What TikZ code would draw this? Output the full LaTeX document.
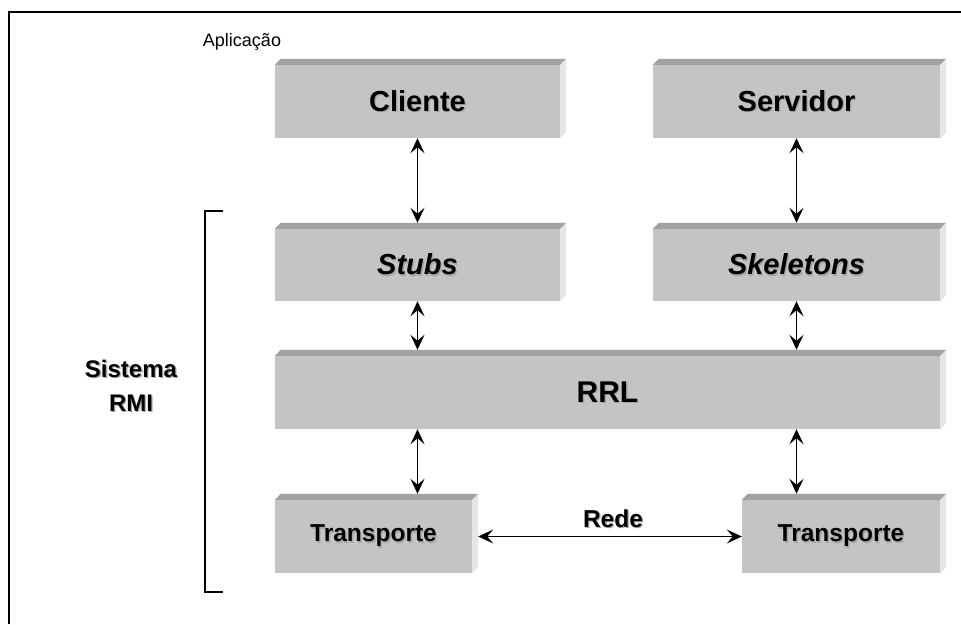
\documentclass[tikz,border=0pt]{standalone}
\usepackage{fontspec}
\setmainfont{Liberation Sans}
\usetikzlibrary{arrows.meta,calc}
\definecolor{faceC}{HTML}{C4C4C6}
\definecolor{topC}{HTML}{A2A2A4}
\definecolor{sideC}{HTML}{E6E6E8}
\newcommand{\shtxt}[1]{\rlap{\kern1.3pt\raisebox{-1.3pt}{\textcolor{black!35}{#1}}}#1}
\newcommand{\bevelbox}[1]{%
  \fill[topC] (#1.north west) -- ++(6,-6) -- ($(#1.north east)+(6,-6)$) -- (#1.north east) -- cycle;
  \fill[sideC] (#1.north east) -- ++(6,-6) -- ($(#1.south east)+(6,-6)$) -- (#1.south east) -- cycle;
}
\begin{document}
\begin{tikzpicture}[x=1pt,y=-1pt,
  boxnode/.style={rectangle, fill=faceC, inner sep=0pt, anchor=center},
  bigtxt/.style={font=\fontsize{29}{32}\selectfont\bfseries},
  midtxt/.style={font=\fontsize{24.5}{27}\selectfont\bfseries},
  arr/.style={line width=1.5pt, {Stealth[length=15pt,width=14pt,inset=6pt]}-{Stealth[length=15pt,width=14pt,inset=6pt]}}
]
\useasboundingbox (0,0) rectangle (961,624);
\fill[white] (0,0) rectangle (961,624);
% frame
\coordinate (fa) at (9,624);
\coordinate (fb) at (9,12);
\coordinate (fc) at (961,12);
\draw[line width=2.2pt] (fa) -- (fb) -- (fc);

% boxes
\node[boxnode, minimum width=285pt, minimum height=73pt, bigtxt] (cli) at (417.5,101.5) {\shtxt{Cliente}};
\node[boxnode, minimum width=287pt, minimum height=73pt, bigtxt] (srv) at (796.5,101.5) {\shtxt{Servidor}};
\node[boxnode, minimum width=285pt, minimum height=72pt, bigtxt] (stu) at (417.5,265) {\shtxt{\itshape Stubs}};
\node[boxnode, minimum width=287pt, minimum height=72pt, bigtxt] (ske) at (796.5,265) {\shtxt{\itshape Skeletons}};
\node[boxnode, minimum width=665pt, minimum height=73pt, font=\fontsize{30}{32}\selectfont\bfseries] (rrl) at (607.5,392.5) {\shtxt{RRL}};
\node[boxnode, minimum width=197pt, minimum height=73pt, midtxt] (trl) at (373.5,536.5) {\shtxt{Transporte}};
\node[boxnode, minimum width=198pt, minimum height=73pt, midtxt] (trr) at (841,536.5) {\shtxt{Transporte}};
\bevelbox{cli}
\bevelbox{srv}
\bevelbox{stu}
\bevelbox{ske}
\bevelbox{rrl}
\bevelbox{trl}
\bevelbox{trr}

% labels
\node[font=\fontsize{18}{20}\selectfont] (apl) at (242,42) {Aplicação};
\node[align=center, font=\fontsize{24}{34}\selectfont\bfseries] (rmi) at (131,386) {\shtxt{Sistema}\\\shtxt{RMI}};
\node[midtxt] (rede) at (613,519) {\shtxt{Rede}};

% bracket
\coordinate (b1) at (223,211);
\coordinate (b2) at (205,211);
\coordinate (b3) at (205,592);
\coordinate (b4) at (223,592);
\draw[line width=1.5pt] (b1) -- (b2) -- (b3) -- (b4);

% arrows
\draw[arr] (cli.south) -- ($(stu.north)+(0,-6)$);
\draw[arr] (srv.south) -- ($(ske.north)+(0,-6)$);
\draw[arr] (stu.south) -- ($(stu.south |- rrl.north)+(0,-6)$);
\draw[arr] (ske.south) -- ($(ske.south |- rrl.north)+(0,-6)$);
\draw[arr] (stu.south |- rrl.south) -- ($(stu.south |- trl.north)+(0,-6)$);
\draw[arr] (ske.south |- rrl.south) -- ($(ske.south |- trr.north)+(0,-6)$);
\draw[arr] ($(trl.east)+(6,0)$) -- (trr.west);
\end{tikzpicture}
\end{document}
